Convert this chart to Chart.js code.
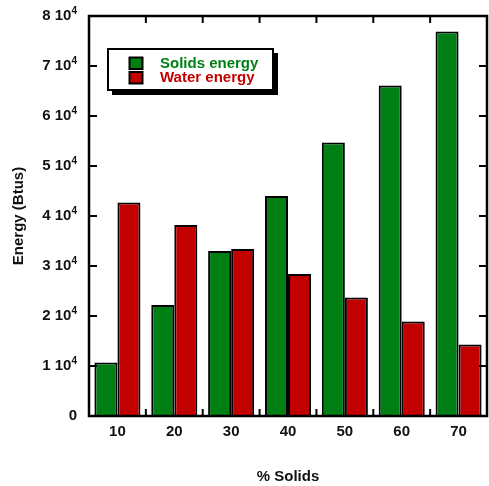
<!DOCTYPE html>
<html><head><meta charset="utf-8">
<script src="https://cdn.jsdelivr.net/npm/chart.js@4/dist/chart.umd.min.js"></script>
<style>html,body{margin:0;padding:0;background:#fff;} #wrap{width:489px;height:486px;position:relative;}</style>
</head><body><div id="wrap"><canvas id="c"></canvas></div>
<script>
const categories = ['10', '20', '30', '40', '50', '60', '70'];
const solidsEnergy = [10700, 22200, 33000, 44000, 54700, 66100, 76900];
const waterEnergy = [42700, 38200, 33400, 28400, 23700, 18900, 14300];
const seriesLabels = ['Solids energy', 'Water energy'];
const yTickValues = [0, 10000, 20000, 30000, 40000, 50000, 60000, 70000, 80000];
const xTitle = '% Solids';
const yTitle = 'Energy (Btus)';

const FONT = "'Liberation Sans', Arial, sans-serif";
const GREEN = '#008014';
const RED = '#c20000';
const TEXT = '#111';

const framePlugin = {
  id: 'frame',
  afterDatasetsDraw(chart) {
    const ctx = chart.ctx, a = chart.chartArea;
    const x = chart.scales.x, y = chart.scales.y;
    ctx.save();
    ctx.strokeStyle = '#000';
    ctx.lineWidth = 2.5;
    ctx.strokeRect(a.left, a.top, a.right - a.left, a.bottom - a.top);
    ctx.lineWidth = 2;
    ctx.beginPath();
    yTickValues.forEach(v => {
      const py = y.getPixelForValue(v);
      ctx.moveTo(a.left, py); ctx.lineTo(a.left + 8, py);
      ctx.moveTo(a.right, py); ctx.lineTo(a.right - 8, py);
    });
    for (let i = 0; i < categories.length - 1; i++) {
      const px = (x.getPixelForValue(i) + x.getPixelForValue(i + 1)) / 2;
      ctx.moveTo(px, a.bottom); ctx.lineTo(px, a.bottom - 7);
      ctx.moveTo(px, a.top); ctx.lineTo(px, a.top + 7);
    }
    ctx.stroke();

    // y tick labels: mantissa + "10" with superscript exponent
    ctx.fillStyle = TEXT;
    ctx.textBaseline = 'alphabetic';
    yTickValues.forEach(v => {
      const py = y.getPixelForValue(v);
      const right = a.left - 12;
      if (v === 0) {
        ctx.font = 'bold 15px ' + FONT;
        ctx.textAlign = 'right';
        ctx.fillText('0', right, py + 4);
        return;
      }
      const exp = '4';
      ctx.font = 'bold 10px ' + FONT;
      const ew = ctx.measureText(exp).width;
      ctx.textAlign = 'left';
      ctx.fillText(exp, right - ew, py - 2.5);
      ctx.font = 'bold 15px ' + FONT;
      ctx.textAlign = 'right';
      ctx.fillText((v / 10000) + ' 10', right - ew, py + 4);
    });
    ctx.restore();
  },
  afterDraw(chart) {
    const ctx = chart.ctx, a = chart.chartArea;
    const bx = a.left + 19, by = a.top + 33, bw = 165, bh = 41;
    ctx.save();
    ctx.fillStyle = '#000';
    ctx.fillRect(bx + 4, by + 4, bw + 1, bh + 1);
    ctx.fillStyle = '#fff';
    ctx.fillRect(bx, by, bw, bh);
    ctx.strokeStyle = '#000';
    ctx.lineWidth = 2;
    ctx.strokeRect(bx, by, bw, bh);
    chart.data.datasets.forEach((d, i) => {
      const my = by + 8.5 + i * 14.5;
      ctx.fillStyle = d.backgroundColor;
      ctx.fillRect(bx + 21.5, my, 13, 11.5);
      ctx.lineWidth = 2;
      ctx.strokeRect(bx + 21.5, my, 13, 11.5);
      ctx.fillStyle = d.backgroundColor;
      ctx.font = 'bold 15px ' + FONT;
      ctx.textBaseline = 'alphabetic';
      ctx.textAlign = 'left';
      ctx.fillText(d.label, bx + 52, by + 19 + i * 14);
    });
    ctx.restore();
  }
};

new Chart(document.getElementById('c'), {
  type: 'bar',
  data: {
    labels: categories,
    datasets: [
      { label: seriesLabels[0], data: solidsEnergy, backgroundColor: GREEN, borderColor: '#000', borderWidth: 2, categoryPercentage: 0.81, barPercentage: 1.0 },
      { label: seriesLabels[1], data: waterEnergy, backgroundColor: RED, borderColor: '#000', borderWidth: 2, categoryPercentage: 0.81, barPercentage: 1.0 }
    ]
  },
  options: {
    responsive: true,
    maintainAspectRatio: false,
    animation: false,
    layout: { padding: { top: 16, right: 2, left: 0, bottom: 0 } },
    plugins: { legend: { display: false }, tooltip: { enabled: false } },
    scales: {
      x: {
        grid: { display: false, drawTicks: false },
        border: { display: false },
        ticks: { color: TEXT, font: { family: FONT, size: 15, weight: 'bold' }, padding: 7 },
        title: { display: true, text: xTitle, color: TEXT, font: { family: FONT, size: 15, weight: 'bold' }, padding: { top: 28, bottom: 0 } },
        afterFit(s) { s.height = 70; }
      },
      y: {
        min: 0, max: 80000,
        afterBuildTicks(s) { s.ticks = yTickValues.map(v => ({ value: v })); },
        grid: { display: false, drawTicks: false },
        border: { display: false },
        ticks: { display: false },
        title: { display: true, text: yTitle, color: TEXT, font: { family: FONT, size: 15, weight: 'bold' }, padding: { top: 10, bottom: 0 } },
        afterFit(s) { s.width = 89; }
      }
    }
  },
  plugins: [framePlugin]
});
</script>
</body></html>
